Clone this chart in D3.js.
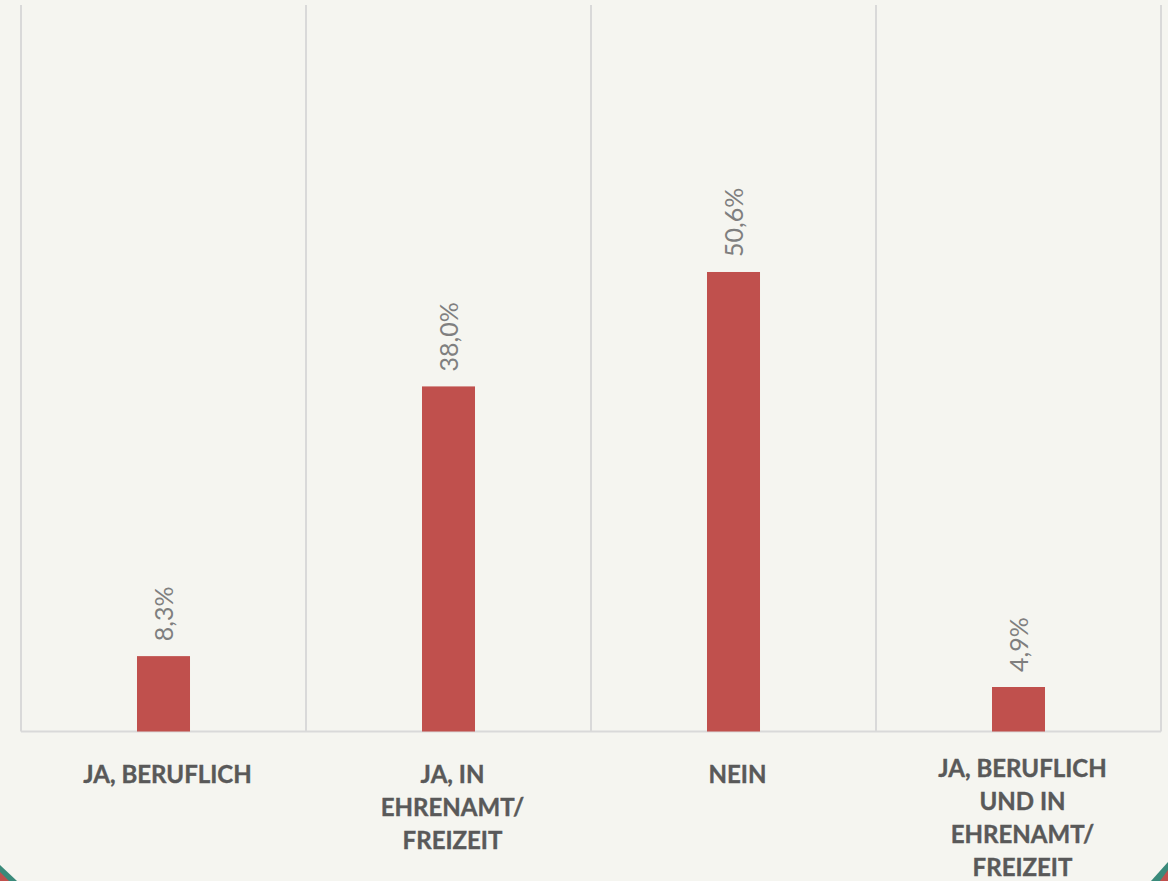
<!DOCTYPE html>
<html>
<head>
<meta charset="utf-8">
<script src="https://cdn.jsdelivr.net/npm/d3@7.9.0/dist/d3.min.js"></script>
<style>
  html, body { margin: 0; padding: 0; background: #f5f5f0; }
  svg { display: block; }
</style>
</head>
<body>
<svg id="chart" width="1168" height="881"></svg>
<script>
const categories = ['JA, BERUFLICH', 'JA, IN EHRENAMT/ FREIZEIT', 'NEIN', 'JA, BERUFLICH UND IN EHRENAMT/ FREIZEIT'];
const values = [8.3, 38.0, 50.6, 4.9];
const yMax = 80;

const svg = d3.select('#chart');
const W = 1168, H = 881;
const plotLeft = 21, plotRight = 1161, plotTop = 5, plotBottom = 731.5;

svg.append('rect').attr('width', W).attr('height', H).attr('fill', '#f5f5f0');

const x = d3.scaleBand().domain(categories).range([plotLeft, plotRight]).padding(0);
const y = d3.scaleLinear().domain([0, yMax]).range([plotBottom, plotTop]);

// vertical separators
const bounds = categories.map(c => x(c)).concat([plotRight]);
svg.selectAll('line.grid')
  .data(bounds)
  .join('line')
  .attr('class', 'grid')
  .attr('x1', d => d).attr('x2', d => d)
  .attr('y1', plotTop).attr('y2', plotBottom)
  .attr('stroke', '#d9d9d9').attr('stroke-width', 2);

// baseline
svg.append('line')
  .attr('x1', plotLeft).attr('x2', plotRight)
  .attr('y1', y(0)).attr('y2', y(0))
  .attr('stroke', '#d9d9d9').attr('stroke-width', 2);

const barW = x.bandwidth() * 0.186;

svg.selectAll('rect.bar')
  .data(values)
  .join('rect')
  .attr('class', 'bar')
  .attr('x', (d, i) => x(categories[i]) + x.bandwidth() / 2 - barW / 2)
  .attr('y', d => y(d))
  .attr('width', barW)
  .attr('height', d => y(0) - y(d))
  .attr('fill', '#c0504d');

// value labels, rotated
svg.selectAll('text.val')
  .data(values)
  .join('text')
  .attr('class', 'val')
  .attr('transform', (d, i) => {
    const cx = x(categories[i]) + x.bandwidth() / 2;
    return `translate(${cx + 9},${y(d) - 15}) rotate(-90)`;
  })
  .attr('font-family', 'Lato, sans-serif')
  .attr('font-size', 25)
  .attr('fill', '#7f7f7f')
  .text(d => d.toFixed(1).replace('.', ',') + '%');

// category labels with wrapping
const maxW = 185, lineH = 33;
categories.forEach((c, i) => {
  const cx = x(c) + x.bandwidth() / 2 + 4;
  const t = svg.append('text')
    .attr('font-family', 'Lato, sans-serif')
    .attr('font-weight', 'bold')
    .attr('font-size', 24)
    .attr('fill', '#595959')
    .attr('stroke', '#595959')
    .attr('stroke-width', 0.4)
    .attr('text-anchor', 'middle');
  const words = c.split(' ');
  const lines = [];
  let cur = [];
  const probe = t.append('tspan');
  words.forEach(w => {
    const test = cur.concat([w]).join(' ');
    probe.text(test);
    if (probe.node().getComputedTextLength() > maxW && cur.length) {
      lines.push(cur.join(' '));
      cur = [w];
    } else {
      cur.push(w);
    }
  });
  lines.push(cur.join(' '));
  probe.remove();
  const y0 = Math.min(783, 876 - (lines.length - 1) * lineH);
  lines.forEach((ln, j) => {
    t.append('tspan').attr('x', cx).attr('y', y0 + j * lineH).text(ln);
  });
});

// decorative corners
svg.append('polygon').attr('points', '0,865 17,881 0,881').attr('fill', '#3a8a7a');
svg.append('polygon').attr('points', '0,872 9,881 0,881').attr('fill', '#c0504d');
svg.append('polygon').attr('points', '1168,862 1151,881 1168,881').attr('fill', '#3a8a7a');
svg.append('polygon').attr('points', '1168,870 1160,881 1168,881').attr('fill', '#c0504d');
</script>
</body>
</html>
